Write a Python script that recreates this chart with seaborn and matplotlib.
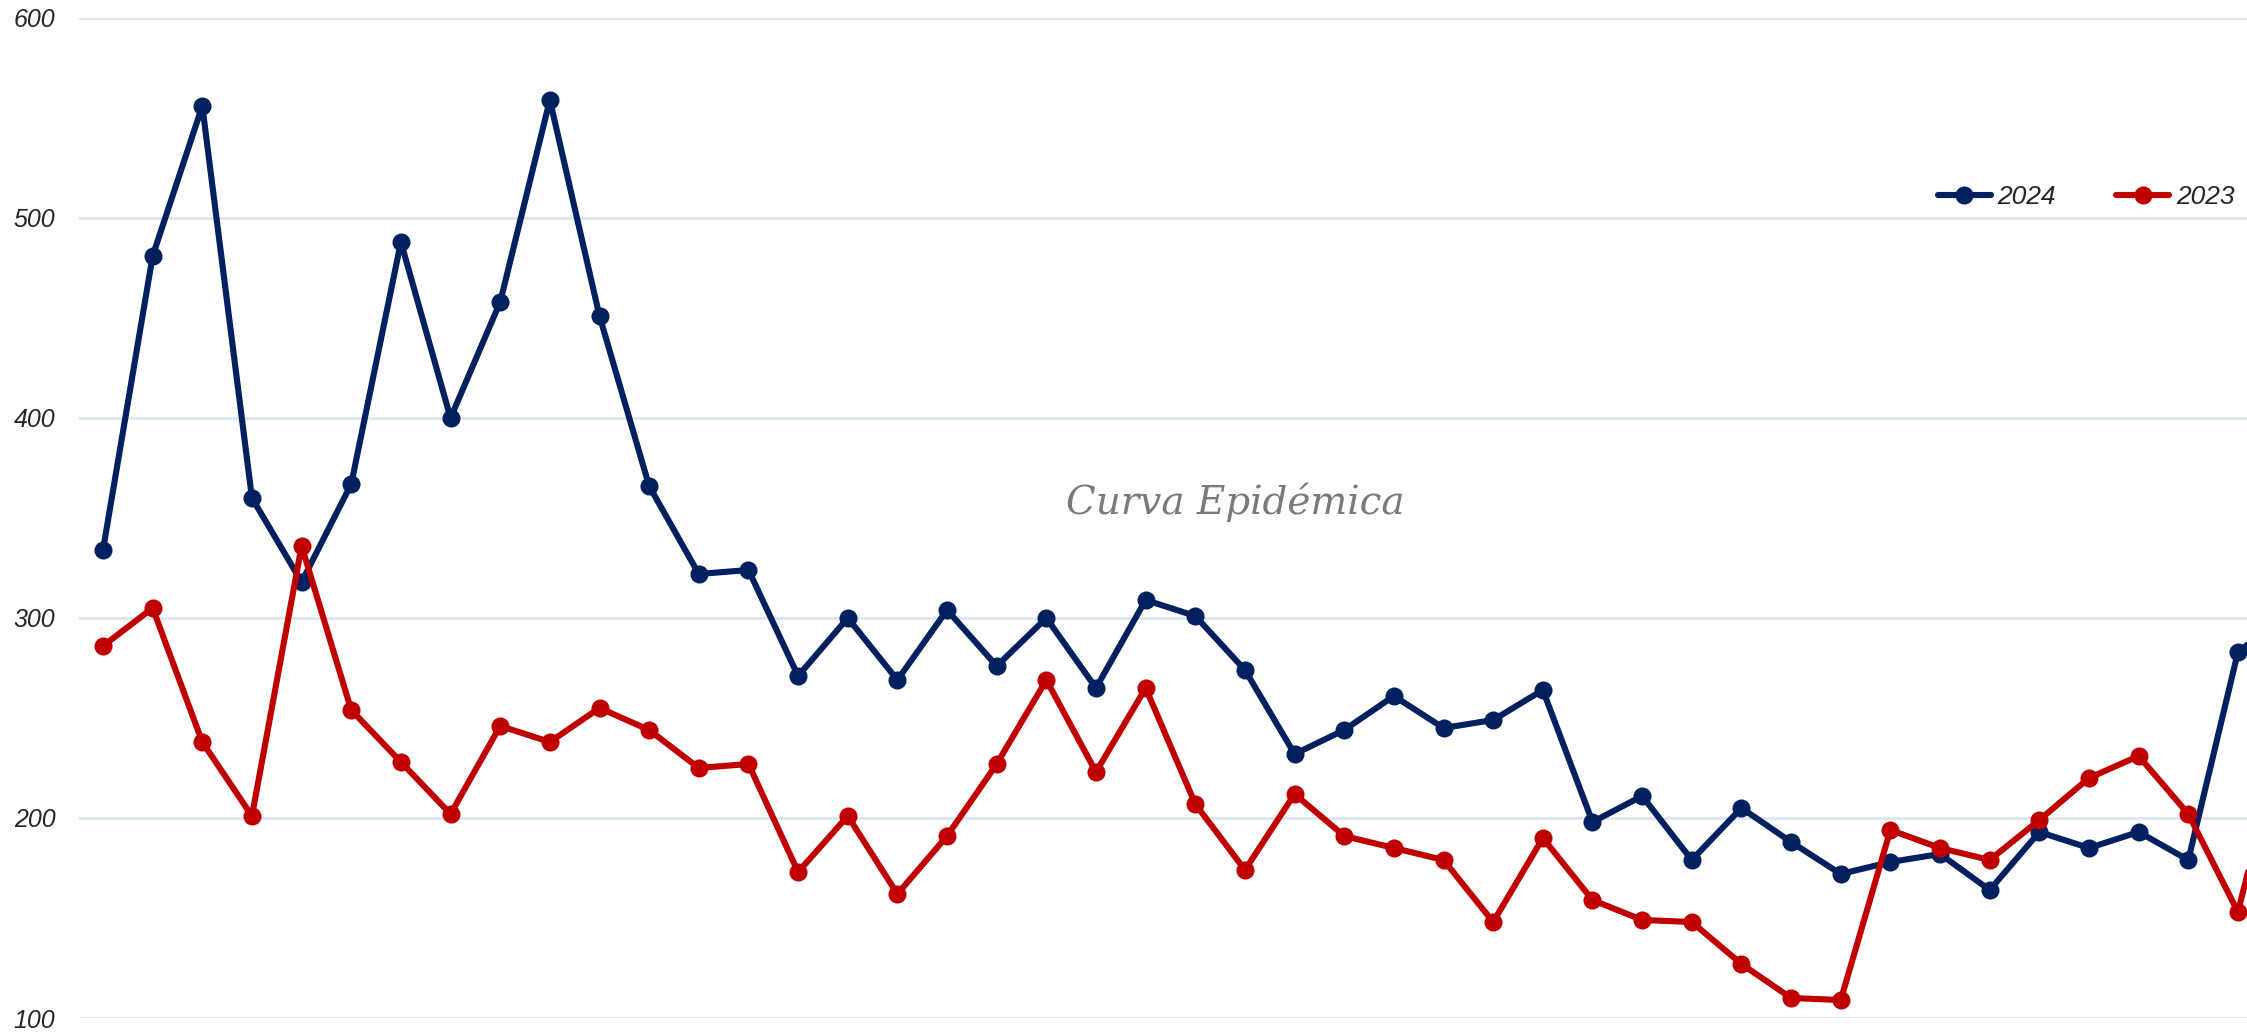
import matplotlib
matplotlib.use("Agg")
import matplotlib.pyplot as plt
import seaborn as sns
import pandas as pd

# weekly cases (last point sits past the right edge)
weeks = list(range(1, 46))
cases_2024 = [334, 481, 556, 360, 318, 367, 488, 400, 458, 559,
              451, 366, 322, 324, 271, 300, 269, 304, 276, 300,
              265, 309, 301, 274, 232, 244, 261, 245, 249, 264,
              198, 211, 179, 205, 188, 172, 178, 182, 164, 193,
              185, 193, 179, 283, 302]
cases_2023 = [286, 305, 238, 201, 336, 254, 228, 202, 246, 238,
              255, 244, 225, 227, 173, 201, 162, 191, 227, 269,
              223, 265, 207, 174, 212, 191, 185, 179, 148, 190,
              159, 149, 148, 127, 110, 109, 194, 185, 179, 199,
              220, 231, 202, 153, 252]
series_names = ["2024", "2023"]
y_ticks = [100, 200, 300, 400, 500, 600]

df = pd.DataFrame({
    "semana": weeks * 2,
    "casos": cases_2024 + cases_2023,
    "serie": ["2024"] * len(weeks) + ["2023"] * len(weeks),
})

sns.set_style("white")
plt.rcParams["font.family"] = ["Liberation Sans", "DejaVu Sans"]

W, H = 2247, 1034
fig = plt.figure(figsize=(W / 100, H / 100), dpi=100)
ax = fig.add_axes([79 / W, 16 / H, 1 - 79 / W, 1 - 34 / H])

palette = {"2024": "#002060", "2023": "#C00000"}
sns.lineplot(data=df, x="semana", y="casos", hue="serie", hue_order=series_names,
             palette=palette, marker="o", markersize=13, markeredgewidth=0,
             linewidth=4.4, ax=ax, legend=True)

# spacing of ~49.65 px per week, first point 24 px from the axes edge
step = 49.65
ax.set_xlim(1 - 24 / step, 1 - 24 / step + (W - 79) / step)
ax.set_ylim(100, 600)
ax.set_yticks(y_ticks)
ax.set_xticks([])
ax.set_xlabel("")
ax.set_ylabel("")
ax.grid(axis="y", color="#DCE6F2", linewidth=2)
ax.set_axisbelow(True)
for s in ax.spines.values():
    s.set_visible(False)
ax.tick_params(axis="y", length=0, pad=17, labelsize=18)
for lab in ax.get_yticklabels():
    lab.set_fontstyle("italic")

handles, labels = ax.get_legend_handles_labels()
for h in handles:
    h.set_linewidth(4.4)
    h.set_markersize(13)
leg = ax.legend(handles, labels, loc="center right",
                bbox_to_anchor=(2258 / W, 1 - 197 / H), bbox_transform=fig.transFigure,
                ncol=2, frameon=False, handlelength=2.0, handletextpad=0.25,
                columnspacing=2.3, prop={"size": 19, "style": "italic"})

ax.text(1235 / W, 1 - 502 / H, "Curva Epidémica", transform=fig.transFigure,
        ha="center", va="center", fontsize=28, color="#7a7a7a",
        family="DejaVu Serif", style="italic")

fig.savefig("out.png", dpi=100)
